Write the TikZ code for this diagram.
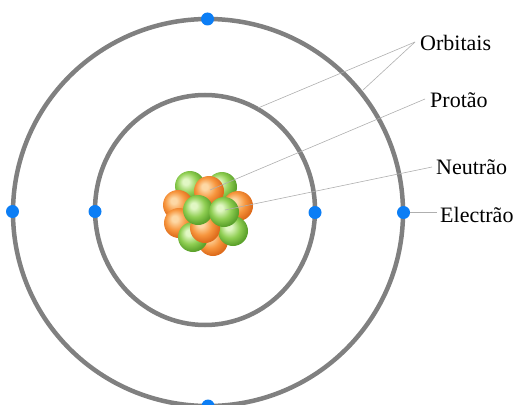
\documentclass[tikz,border=0pt]{standalone}
\usepackage{fontspec}
\setmainfont{Liberation Serif}

\definecolor{orbitgray}{RGB}{128,128,128}
\definecolor{leadergray}{RGB}{175,175,175}
\definecolor{electronblue}{RGB}{12,126,245}
\definecolor{oL}{RGB}{253,216,165}
\definecolor{oM}{RGB}{247,150,62}
\definecolor{oD}{RGB}{222,108,28}
\definecolor{gL}{RGB}{225,247,196}
\definecolor{gM}{RGB}{143,206,82}
\definecolor{gD}{RGB}{92,162,44}

% sphere shadings with the highlight at the upper left
\pgfdeclareradialshading{orangesph}{\pgfpoint{-8bp}{8bp}}{%
  color(0bp)=(oL); color(5bp)=(oL); color(17bp)=(oM); color(27bp)=(oD); color(50bp)=(oD)}
\pgfdeclareradialshading{greensph}{\pgfpoint{-8bp}{8bp}}{%
  color(0bp)=(gL); color(5bp)=(gL); color(17bp)=(gM); color(27bp)=(gD); color(50bp)=(gD)}

\tikzset{
  orbit/.style={draw=orbitgray, line width=4.5pt},
  electron/.style={circle, fill=electronblue, minimum size=13pt, inner sep=0pt},
  proton/.style={circle, minimum size=30pt, inner sep=0pt, shading=orangesph},
  neutron/.style={circle, minimum size=30pt, inner sep=0pt, shading=greensph},
  leader/.style={draw=leadergray, line width=0.6pt},
  label/.style={anchor=base west, inner sep=0pt, font=\fontsize{22}{26}\selectfont}
}

\begin{document}
\begin{tikzpicture}[x=1pt, y=-1pt]
  \useasboundingbox (0,0) rectangle (516,404);

  % orbits
  \draw[orbit] (208,212.5) ellipse [x radius=195pt, y radius=193.5pt];
  \draw[orbit] (205,210) ellipse [x radius=110pt, y radius=115pt];

  % electrons
  \node[electron] (e1) at (207.5,19) {};
  \node[electron] (e2) at (12.5,211.5) {};
  \node[electron] (e3) at (403.5,212.5) {};
  \node[electron] (e4) at (208,406) {};
  \node[electron] (e5) at (95,211.5) {};
  \node[electron] (e6) at (315,212.5) {};

  % nucleus, back to front
  \node[neutron] (n1) at (190,186) {};
  \node[neutron] (n2) at (222,187) {};
  \node[proton]  (p1) at (178,205) {};
  \node[proton]  (p2) at (238,206) {};
  \node[proton]  (p3) at (179,223) {};
  \node[proton]  (p4) at (213,241) {};
  \node[neutron] (n3) at (193,237) {};
  \node[neutron] (n4) at (233,231) {};
  \node[proton]  (p5) at (209,191) {};
  \node[proton]  (p6) at (205,228) {};
  \node[neutron] (n5) at (198,210) {};
  \node[neutron] (n6) at (224,212) {};

  % labels
  \node[label] (orb) at (420,50)  {Orbitais};
  \node[label] (pro) at (430,107) {Protão};
  \node[label] (neu) at (436,174) {Neutrão};
  \node[label] (ele) at (440,222) {Electrão};

  % leader line ends
  \coordinate (orbtip) at (415,42);
  \coordinate (orbin)  at (258,108);
  \coordinate (orbout) at (363,90);
  \coordinate (protip) at (425,99);
  \coordinate (protgt) at (210,190);
  \coordinate (neutip) at (432,167);
  \coordinate (neutgt) at (225,210);
  \coordinate (eletip) at (437,212.5);

  \draw[leader] (orbtip) -- (orbin);
  \draw[leader] (orbtip) -- (orbout);
  \draw[leader] (protip) -- (protgt);
  \draw[leader] (neutip) -- (neutgt);
  \draw[leader] (eletip) -- (e3.east);
\end{tikzpicture}
\end{document}
